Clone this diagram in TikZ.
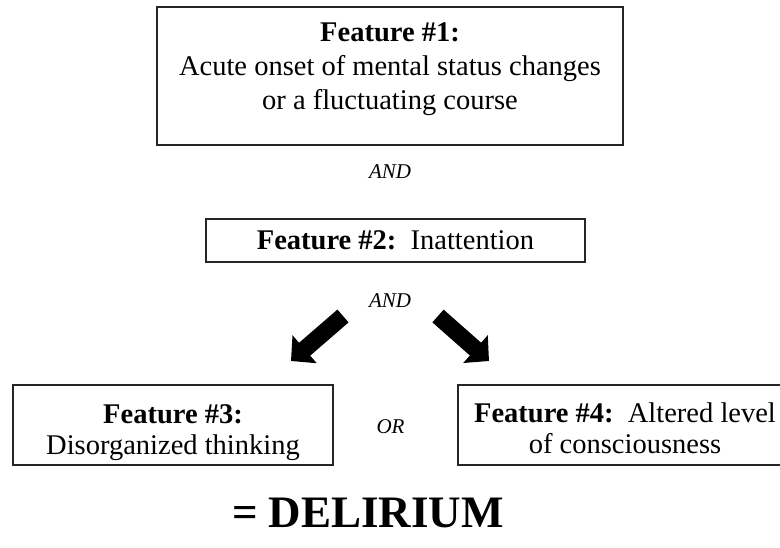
\documentclass[tikz,border=0pt]{standalone}
\usepackage{fontspec}
\setmainfont{Liberation Serif}
\usetikzlibrary{arrows.meta,calc,positioning}

\begin{document}
\begin{tikzpicture}[x=1pt,y=-1pt]
    \tikzset{FeatBox/.style = {draw = black!85,
        line width = 1.2pt,
        inner sep  = 0pt},
      FeatText/.style = {align = center,
        inner sep = 0pt,
        font      = \fontsize{28.5}{34}\selectfont},
      LinkWord/.style = {inner sep = 0pt,
        font = \fontsize{21}{24}\selectfont\itshape},
      BigArrow/.style = {line width = 17pt,
        -{Triangle[length=18pt,width=36pt]}}}
    \useasboundingbox (0,0) rectangle (780,548);
    \node[FeatBox,minimum width=466,minimum height=138] (F1) at (390,76) {};
    \node[FeatText,anchor=base] (T1) at ($(F1.north) + (0,103)$) {\textbf{Feature \#1:}\\Acute onset of mental status changes\\or a fluctuating course};
    \node[LinkWord] (And1) at (390,172) {AND};
    \node[FeatBox,FeatText,minimum width=379,minimum height=43] (F2) at (395.5,240.5) {\textbf{Feature \#2:}\ \ Inattention};
    \node[LinkWord] (And2) at (390,301) {AND};
    \coordinate (L1) at (343,316);
    \coordinate (L2) at (291,361);
    \coordinate (R1) at (438,316);
    \coordinate (R2) at (489,361);
    \draw[BigArrow] (L1) -- (L2);
    \draw[BigArrow] (R1) -- (R2);
    \node[FeatBox,minimum width=320,minimum height=80] (F3) at (173,425) {};
    \node[FeatText,anchor=base,font=\fontsize{28.5}{31}\selectfont] (T3) at ($(F3.north) + (0,70)$) {\textbf{Feature \#3:}\\Disorganized thinking};
    \node[LinkWord] (Or) at (390.5,427) {OR};
    \node[FeatBox,minimum width=334,minimum height=80] (F4) at (625,425) {};
    \node[FeatText,anchor=base,font=\fontsize{28.5}{31}\selectfont] (T4) at ($(F4.north) + (0,69)$) {\textbf{Feature \#4:}\ \ Altered level\\of consciousness};
    \node[anchor=base,inner sep=0pt,font=\fontsize{45}{54}\selectfont\bfseries] (Res) at (368,527) {= DELIRIUM};
  \end{tikzpicture}
\end{document}
